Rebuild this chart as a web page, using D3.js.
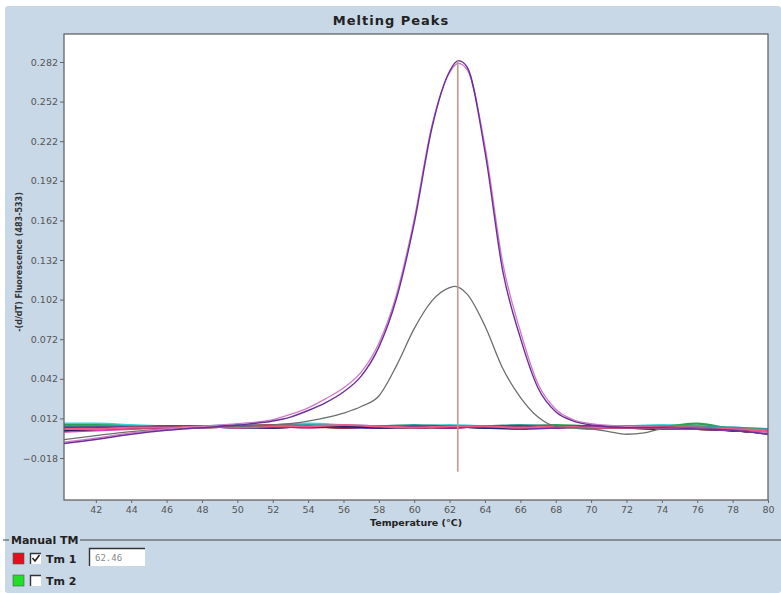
<!DOCTYPE html>
<html>
<head>
<meta charset="utf-8">
<script src="https://cdn.jsdelivr.net/npm/d3@7"></script>
<style>
  body { margin: 0; background: #fff; }
  svg { display: block; font-family: "DejaVu Sans", Verdana, sans-serif; }
</style>
</head>
<body>
<svg id="chart" width="781" height="593"></svg>
<script>
// Melting Peaks — reconstructed values

const xTicks = [42, 44, 46, 48, 50, 52, 54, 56, 58, 60, 62, 64, 66, 68, 70, 72, 74, 76, 78, 80];
const yTicks = [-0.018, 0.012, 0.042, 0.072, 0.102, 0.132, 0.162, 0.192, 0.222, 0.252, 0.282];
const tmValue = 62.46;

// peak samples
const peakTemps = [40.2, 42, 44, 46, 48, 50, 52, 53, 54, 55, 56, 57, 58, 59, 60, 61, 62, 62.5, 63, 64, 65, 66, 67, 68, 69, 70, 72, 74, 76, 78, 80];
const purplePeak = [-0.007, -0.004, 0.000, 0.003, 0.005, 0.007, 0.010, 0.013, 0.018, 0.024, 0.032, 0.044, 0.066, 0.103, 0.160, 0.232, 0.275, 0.283, 0.278, 0.214, 0.124, 0.073, 0.035, 0.017, 0.010, 0.007, 0.005, 0.005, 0.004, 0.003, 0.000];
const pinkPeak   = [-0.006, -0.003, 0.001, 0.004, 0.006, 0.008, 0.011, 0.015, 0.020, 0.027, 0.035, 0.047, 0.069, 0.106, 0.163, 0.234, 0.274, 0.281, 0.276, 0.218, 0.130, 0.078, 0.038, 0.019, 0.011, 0.008, 0.006, 0.005, 0.004, 0.003, 0.001];

const grayTemps = [40.2, 42, 44, 46, 48, 50, 52, 54, 56, 57, 58, 59, 60, 61, 62, 62.3, 63, 64, 65, 66, 67, 68, 70, 71, 72, 73, 74, 76, 78, 80];
const grayPeak  = [-0.004, -0.001, 0.002, 0.004, 0.005, 0.006, 0.007, 0.010, 0.016, 0.021, 0.029, 0.052, 0.080, 0.101, 0.111, 0.112, 0.106, 0.082, 0.050, 0.028, 0.013, 0.006, 0.004, 0.002, 0.000, 0.001, 0.004, 0.004, 0.003, 0.000];

// flat (negative) samples
const baseTemps = [40.2, 42, 44, 46, 48, 50, 52, 54, 56, 58, 60, 62, 64, 66, 68, 70, 72, 74, 76, 78, 80];
const baseRed     = [0.004, 0.004, 0.005, 0.006, 0.006, 0.006, 0.007, 0.006, 0.005, 0.006, 0.006, 0.005, 0.006, 0.006, 0.006, 0.006, 0.005, 0.005, 0.004, 0.003, 0.001];
const baseGreen   = [0.007, 0.007, 0.006, 0.006, 0.006, 0.006, 0.006, 0.006, 0.006, 0.006, 0.005, 0.006, 0.005, 0.006, 0.007, 0.006, 0.006, 0.006, 0.008, 0.004, 0.003];
const baseCyan    = [0.008, 0.008, 0.007, 0.006, 0.006, 0.007, 0.007, 0.008, 0.007, 0.006, 0.006, 0.007, 0.006, 0.006, 0.006, 0.005, 0.006, 0.007, 0.006, 0.005, 0.003];
const baseBlue    = [0.005, 0.005, 0.005, 0.006, 0.006, 0.005, 0.006, 0.006, 0.005, 0.005, 0.006, 0.006, 0.005, 0.004, 0.005, 0.006, 0.005, 0.005, 0.004, 0.004, 0.000];
const baseNavy    = [0.003, 0.004, 0.005, 0.005, 0.006, 0.005, 0.005, 0.006, 0.006, 0.005, 0.005, 0.006, 0.005, 0.005, 0.006, 0.005, 0.005, 0.004, 0.004, 0.003, 0.001];
const baseMagenta = [0.002, 0.003, 0.004, 0.005, 0.005, 0.006, 0.006, 0.005, 0.006, 0.005, 0.006, 0.005, 0.006, 0.005, 0.006, 0.005, 0.006, 0.005, 0.005, 0.003, 0.002];
const baseTeal    = [0.006, 0.006, 0.006, 0.006, 0.005, 0.006, 0.006, 0.007, 0.006, 0.006, 0.007, 0.006, 0.006, 0.007, 0.006, 0.005, 0.006, 0.006, 0.006, 0.005, 0.004];
const baseMaroon  = [0.003, 0.004, 0.005, 0.005, 0.006, 0.006, 0.005, 0.006, 0.005, 0.006, 0.005, 0.005, 0.006, 0.006, 0.005, 0.006, 0.005, 0.005, 0.004, 0.003, 0.002];
const baseOlive   = [0.005, 0.005, 0.006, 0.006, 0.005, 0.006, 0.006, 0.005, 0.006, 0.006, 0.006, 0.006, 0.005, 0.006, 0.006, 0.004, 0.006, 0.006, 0.005, 0.004, 0.003];
const basePurple  = [0.004, 0.005, 0.005, 0.006, 0.006, 0.006, 0.005, 0.006, 0.006, 0.005, 0.006, 0.005, 0.006, 0.005, 0.005, 0.006, 0.005, 0.004, 0.004, 0.003, 0.001];
const basePink    = [0.004, 0.004, 0.005, 0.005, 0.006, 0.005, 0.006, 0.006, 0.007, 0.006, 0.005, 0.006, 0.006, 0.005, 0.006, 0.005, 0.005, 0.005, 0.004, 0.004, 0.002];

const baseSeries = [
  { c: "#2fd6d6", v: baseCyan },
  { c: "#2aa050", v: baseGreen },
  { c: "#2f9c9c", v: baseTeal },
  { c: "#8a9a3a", v: baseOlive },
  { c: "#3040c8", v: baseBlue },
  { c: "#e02a2a", v: baseRed },
  { c: "#d83cb8", v: baseMagenta },
  { c: "#8a2a3a", v: baseMaroon },
  { c: "#7a30a8", v: basePurple },
  { c: "#1e2060", v: baseNavy },
  { c: "#f05a84", v: basePink }
];

const svg = d3.select("#chart");
const W = 781, H = 593;
const m = { left: 64, right: 768, top: 34, bottom: 500 };

// panel background
svg.append("rect").attr("width", W).attr("height", H).attr("fill", "#fff");
svg.append("rect").attr("x", 5).attr("y", 6).attr("width", W - 5).attr("height", H - 6)
  .attr("rx", 3).attr("fill", "#c9d8e7");

// title
svg.append("text").attr("x", 391).attr("y", 25)
  .attr("text-anchor", "middle")
  .style("font-size", "13px").style("font-weight", "bold").style("fill", "#222")
  .style("letter-spacing", "1px")
  .text("Melting Peaks");

const x = d3.scaleLinear().domain([40.2, 80]).range([m.left, m.right]);
const y = d3.scaleLinear().domain([-0.0498, 0.3032]).range([m.bottom, m.top]);

svg.append("rect").attr("x", m.left).attr("y", m.top)
  .attr("width", m.right - m.left).attr("height", m.bottom - m.top)
  .attr("fill", "#fff");

const plot = svg.append("g");
const line = d3.line().curve(d3.curveMonotoneX);

baseSeries.forEach(s => {
  plot.append("path")
    .attr("d", line(baseTemps.map((t, i) => [x(t), y(s.v[i])])))
    .attr("fill", "none").attr("stroke", s.c).attr("stroke-width", 2.2);
});

plot.append("path")
  .attr("d", line(grayTemps.map((t, i) => [x(t), y(grayPeak[i])])))
  .attr("fill", "none").attr("stroke", "#6e6e6e").attr("stroke-width", 1.3);
plot.append("path")
  .attr("d", line(peakTemps.map((t, i) => [x(t), y(pinkPeak[i])])))
  .attr("fill", "none").attr("stroke", "#d278c8").attr("stroke-width", 1.3);
plot.append("path")
  .attr("d", line(peakTemps.map((t, i) => [x(t), y(purplePeak[i])])))
  .attr("fill", "none").attr("stroke", "#6a2e98").attr("stroke-width", 1.4);

// Tm marker
plot.append("line")
  .attr("x1", x(tmValue)).attr("x2", x(tmValue))
  .attr("y1", y(0.283)).attr("y2", y(-0.0284))
  .attr("stroke", "#b89c8c").attr("stroke-width", 1.6);

// frame
svg.append("rect").attr("x", m.left).attr("y", m.top)
  .attr("width", m.right - m.left).attr("height", m.bottom - m.top)
  .attr("fill", "none").attr("stroke", "#5a5a5a").attr("stroke-width", 1.2);

// axes
const xAxis = d3.axisBottom(x).tickValues(xTicks).tickSize(3).tickPadding(3).tickFormat(d3.format("d"));
const yAxis = d3.axisLeft(y).tickValues(yTicks).tickSize(4).tickPadding(2).tickFormat(d3.format(".3f"));

const gx = svg.append("g").attr("transform", `translate(0,${m.bottom})`).call(xAxis);
const gy = svg.append("g").attr("transform", `translate(${m.left},0)`).call(yAxis);
[gx, gy].forEach(g => {
  g.select(".domain").remove();
  g.selectAll("line").attr("stroke", "#666");
  g.selectAll("text").style("font-size", "9.5px").style("fill", "#555")
    .style("font-family", "'DejaVu Sans', Verdana, sans-serif");
});

svg.append("text").attr("x", (m.left + m.right) / 2).attr("y", 526)
  .attr("text-anchor", "middle")
  .style("font-size", "9.5px").style("font-weight", "bold").style("fill", "#222")
  .text("Temperature (°C)");

svg.append("text")
  .attr("transform", `translate(22,${262}) rotate(-90)`)
  .attr("text-anchor", "middle")
  .style("font-size", "8px").style("font-weight", "bold").style("fill", "#333")
  .text("-(d/dT) Fluorescence (483-533)");

// Manual TM section
const lineY = 540;
svg.append("line").attr("x1", 3).attr("x2", 9).attr("y1", lineY).attr("y2", lineY)
  .attr("stroke", "#444");
svg.append("line").attr("x1", 80).attr("x2", W).attr("y1", lineY).attr("y2", lineY)
  .attr("stroke", "#444").attr("stroke-width", 1.2);
svg.append("text").attr("x", 11).attr("y", lineY + 4)
  .style("font-size", "11px").style("font-weight", "bold").style("fill", "#222")
  .text("Manual TM");

const rows = [
  { label: "Tm 1", color: "#e0101c", checked: true, y: 558 },
  { label: "Tm 2", color: "#22dd2a", checked: false, y: 580 }
];
rows.forEach(r => {
  svg.append("rect").attr("x", 13).attr("y", r.y - 5).attr("width", 11).attr("height", 11)
    .attr("fill", r.color).attr("stroke", "#555").attr("stroke-width", 0.6);
  svg.append("rect").attr("x", 30).attr("y", r.y - 5).attr("width", 11).attr("height", 11)
    .attr("fill", "#fff");
  svg.append("path")
    .attr("d", `M30.5,${r.y + 6}V${r.y - 4.5}H41`)
    .attr("fill", "none").attr("stroke", "#333").attr("stroke-width", 1.4);
  if (r.checked) {
    svg.append("path")
      .attr("d", `M32.5,${r.y}L35,${r.y + 3}L39.5,${r.y - 3}`)
      .attr("fill", "none").attr("stroke", "#222").attr("stroke-width", 1.6);
  }
  svg.append("text").attr("x", 46).attr("y", r.y + 4.5)
    .style("font-size", "11px").style("font-weight", "bold").style("fill", "#222")
    .text(r.label);
});

// Tm input box
svg.append("rect").attr("x", 89).attr("y", 548).attr("width", 56).attr("height", 18).attr("fill", "#fff");
svg.append("path").attr("d", "M89.5,566V548.5H145")
  .attr("fill", "none").attr("stroke", "#333").attr("stroke-width", 1.4);
svg.append("text").attr("x", 95).attr("y", 561)
  .style("font-family", "'DejaVu Sans Mono', monospace")
  .style("font-size", "9px").style("fill", "#888")
  .text(tmValue.toFixed(2));
</script>
</body>
</html>
